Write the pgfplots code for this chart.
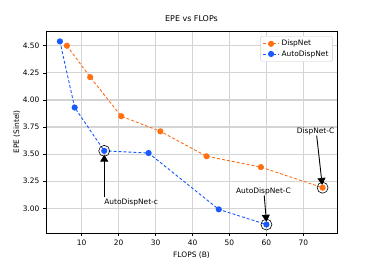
\documentclass[border=0pt]{standalone}
\usepackage{pgfplots}
\pgfplotsset{compat=1.18}
\usepackage{fontspec}
\setmainfont{DejaVu Sans}
\usetikzlibrary{arrows.meta}
\definecolor{dorange}{RGB}{255,112,20}
\definecolor{dblue}{RGB}{25,90,255}
\begin{document}
\begin{tikzpicture}[x=1bp,y=1bp]
\begin{axis}[
  at={(0,0)}, anchor=south west,
  width=291bp, height=202bp, scale only axis,
  xmin=0.34, xmax=79.1, ymin=2.772, ymax=4.636,
  xtick={10,20,30,40,50,60,70},
  ytick={3.00,3.25,3.50,3.75,4.00,4.25,4.50},
  yticklabel style={/pgf/number format/.cd,fixed,fixed zerofill,precision=2},
  /pgf/number format/assume math mode=true,
  ticklabel style={font=\fontsize{7.5}{9}\selectfont},
  label style={font=\fontsize{7.5}{9}\selectfont},
  ylabel style={yshift=-4bp},
  title style={font=\fontsize{8}{10}\selectfont, at={(0.5,1)}, anchor=base, yshift=4bp},
  title={EPE vs FLOPs},
  xlabel={FLOPS (B)}, ylabel={EPE (Sintel)},
  grid=major, major grid style={line width=1.2pt, black!17},
  axis line style={line width=0.8pt},
  tick style={black, line width=0.6pt},
  tick align=outside, major tick length=3bp,
  xtick pos=bottom, ytick pos=left,
  legend style={at={(0.985,0.975)}, anchor=north east, font=\fontsize{7.5}{9}\selectfont,
    draw=black!20, rounded corners=1.5pt, row sep=-1pt, inner sep=2pt},
  legend cell align=left,
  legend image code/.code={\draw[#1] (0bp,0bp) -- (16bp,0bp); \fill[#1, solid] (8bp,0bp) circle (2.6bp);},
]
\addplot[dorange, densely dashed, line width=0.9pt, mark=*, mark size=2.6bp, mark options={solid}] coordinates {
(6.0,4.50) (12.3,4.21) (20.7,3.85) (31.3,3.71) (43.8,3.48) (58.5,3.38) (75.2,3.19)};
\addlegendentry{DispNet}
\addplot[dblue, densely dashed, line width=0.9pt, mark=*, mark size=2.6bp, mark options={solid}] coordinates {
(4.1,4.54) (8.1,3.93) (16.1,3.53) (28.1,3.51) (47.1,2.99) (60.0,2.85)};
\addlegendentry{AutoDispNet}
\node[circle, draw=black, line width=0.6pt, minimum size=11bp, inner sep=0] at (axis cs:16.1,3.53) {};
\node[circle, draw=black, line width=0.6pt, minimum size=11bp, inner sep=0] at (axis cs:60.0,2.85) {};
\node[circle, draw=black, line width=0.6pt, minimum size=11bp, inner sep=0] at (axis cs:75.2,3.19) {};
\draw[line width=0.9pt, -{Triangle[length=7bp,width=8bp]}] (axis cs:16.1,3.10) -- (axis cs:16.1,3.495);
\draw[line width=0.9pt, -{Triangle[length=7bp,width=8bp]}] (axis cs:59.4,3.12) -- (axis cs:60.0,2.875);
\draw[line width=0.9pt, -{Triangle[length=7bp,width=8bp]}] (axis cs:73.6,3.67) -- (axis cs:75.1,3.215);
\node[anchor=west, font=\fontsize{7.5}{9}\selectfont, inner sep=1pt] at (axis cs:15.8,3.055) {AutoDispNet-c};
\node[font=\fontsize{7.5}{9}\selectfont, inner sep=1pt] at (axis cs:59.2,3.155) {AutoDispNet-C};
\node[font=\fontsize{7.5}{9}\selectfont, inner sep=1pt] at (axis cs:73.3,3.71) {DispNet-C};
\end{axis}
\useasboundingbox (-46bp,-34bp) rectangle (328bp,233bp);
\end{tikzpicture}
\end{document}
